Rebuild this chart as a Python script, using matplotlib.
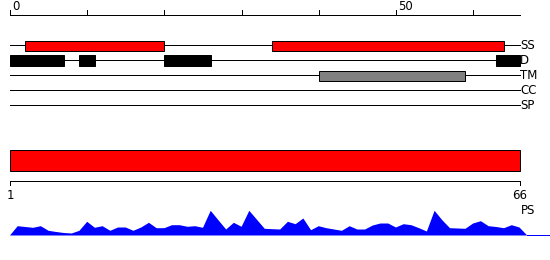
import matplotlib
matplotlib.use("Agg")
import matplotlib.pyplot as plt
from matplotlib.patches import Rectangle

# ---- data ----
seq_len = 66
top_ticks = [0, 10, 20, 30, 40, 50, 60]
top_tick_labels = {0: "0", 50: "50"}
track_names = ["SS", "D", "TM", "CC", "SP"]
ss_segments = [(2, 20), (34, 64)]
d_segments = [(0, 7), (9, 11), (20, 26), (63, 66)]
tm_segments = [(40, 59)]
cc_segments = []
sp_segments = []
ps_segments = [(0, 66)]
ps_labels = ["1", "66"]
profile = [9.3, 8.5, 7.7, 9.3, 4.7, 3.5, 2.5, 2.0, 4.7, 13.7,
           7.7, 9.3, 4.7, 8.0, 8.0, 4.7, 8.0, 12.7, 7.3, 7.3,
           10.3, 10.3, 8.7, 9.3, 7.7, 24.7, 15.3, 6.0, 12.7, 8.7,
           24.7, 15.7, 6.7, 6.3, 6.0, 13.7, 11.3, 17.0, 5.3, 9.3,
           7.3, 6.0, 4.7, 9.3, 6.0, 6.0, 10.0, 12.0, 12.0, 8.0,
           11.3, 10.3, 7.3, 4.0, 24.7, 15.3, 7.3, 7.0, 6.7, 12.0,
           14.3, 9.3, 8.5, 7.3, 10.3, 8.0]

# ---- layout ----
W, H = 550, 260
U = 7.72  # px per residue
X0 = 10
xlim = (-X0 / U, (W - X0) / U)
lw = 0.72
font = dict(family="DejaVu Sans", fontsize=8.5)

fig = plt.figure(figsize=(W / 100, H / 100), dpi=100)
ax = fig.add_axes([0, 0, 1, 1])
ax.set_xlim(*xlim)
ax.set_ylim(H, 0)
ax.axis("off")

# top scale
ax.plot([0, seq_len], [15, 15], color="black", lw=lw)
for t in top_ticks:
    ax.plot([t, t], [15, 10], color="black", lw=lw)
    if t in top_tick_labels:
        ax.text(t + 0.25, 10.5, top_tick_labels[t], ha="left", va="baseline", **font)

# tracks
track_y = [45, 60, 75, 90, 105]
track_segs = [ss_segments, d_segments, tm_segments, cc_segments, sp_segments]
track_style = [dict(fc="#ff0000", ec="black", h=10),
               dict(fc="black", ec="black", h=11),
               dict(fc="#808080", ec="black", h=10),
               dict(fc="#ffffff", ec="black", h=10),
               dict(fc="#ffffff", ec="black", h=10)]
for name, y, segs, st in zip(track_names, track_y, track_segs, track_style):
    ax.plot([0, seq_len], [y, y], color="black", lw=lw, zorder=1)
    for s, e in segs:
        ax.add_patch(Rectangle((s, y + 0.5 - st["h"] / 2), e - s, st["h"],
                               fc=st["fc"], ec=st["ec"], lw=lw, zorder=2))
    ax.text(seq_len + 0.1, y + 0.5, name, ha="left", va="center", **font)

# PS bar and scale
for s, e in ps_segments:
    ax.add_patch(Rectangle((s, 150), e - s, 20.5, fc="#ff0000", ec="black", lw=lw, zorder=2))
ax.plot([0, seq_len], [180.5, 180.5], color="black", lw=lw)
ax.plot([0, 0], [180.5, 185], color="black", lw=lw)
ax.plot([seq_len, seq_len], [180.5, 185], color="black", lw=lw)
ax.text(0.1, 195.5, ps_labels[0], ha="center", va="center", **font)
ax.text(seq_len, 195.5, ps_labels[1], ha="center", va="center", **font)
ax.text(seq_len + 0.2, 211, "PS", ha="left", va="center", **font)

# profile
pax = fig.add_axes([0, (H - 235.5) / H, 1, 30 / H])
pax.set_xlim(*xlim)
pax.set_ylim(0, 30)
pax.axis("off")
px = [0] + list(range(1, seq_len + 1)) + [seq_len + 1]
py = [0] + profile + [0]
pax.fill(px, py, color="#0000ff", lw=0)
pax.plot([seq_len + 1, xlim[1]], [0.3, 0.3], color="#0000ff", lw=lw)

fig.savefig("out.png", dpi=100)
